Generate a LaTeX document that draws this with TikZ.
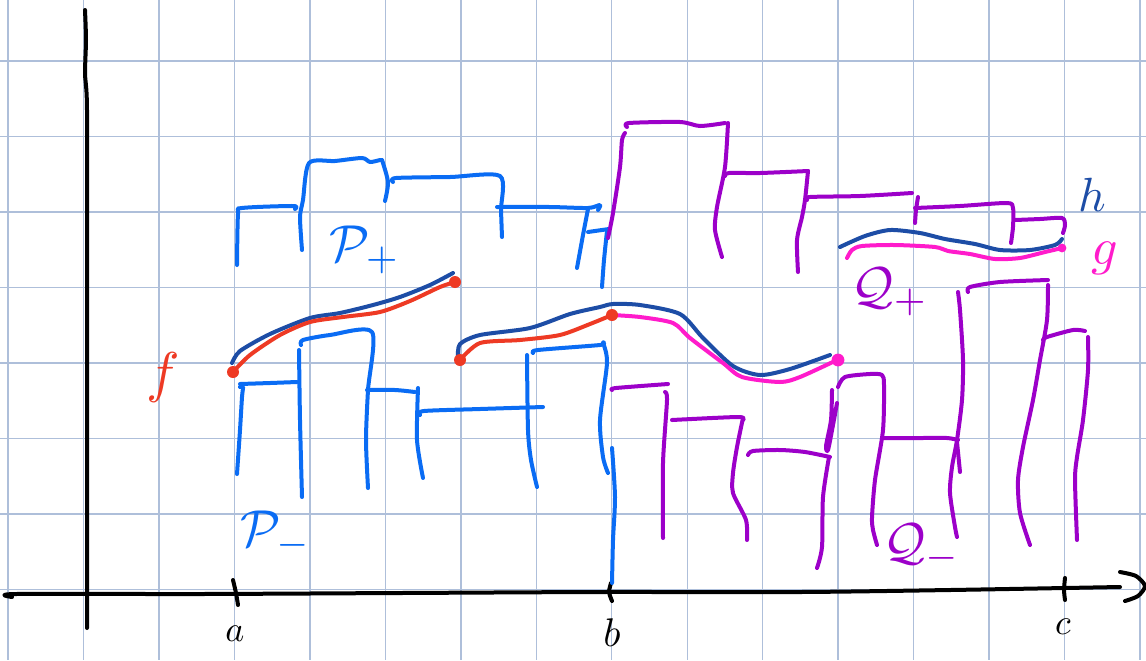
\documentclass[tikz,border=0pt]{standalone}
\definecolor{gridc}{HTML}{AEBFDA}
\definecolor{pblue}{HTML}{0A6CF4}
\definecolor{dblue}{HTML}{1D4DA6}
\definecolor{fred}{HTML}{EE3A24}
\definecolor{gmag}{HTML}{FF1BCB}
\definecolor{qpur}{HTML}{9C00C9}
\tikzset{
  gridline/.style={draw=gridc, line width=0.7pt},
  pen/.style={line width=2pt, line cap=round, line join=round},
  axispen/.style={pen, draw=black},
  pbar/.style={pen, draw=pblue},
  qbar/.style={pen, draw=qpur},
  hcurve/.style={pen, draw=dblue},
  fcurve/.style={pen, draw=fred},
  gcurve/.style={pen, draw=gmag},
  lbl/.style={inner sep=0pt, anchor=center},
  sm/.style={smooth, tension=0.45}
}
\begin{document}
\begin{tikzpicture}[x=0.5pt, y=-0.5pt]
\fill[white] (0,0) rectangle (1146,660);
\useasboundingbox (0,0) rectangle (1146,660);
% grid
\foreach \i in {0,...,15} \draw[gridline] ({8+75.47*\i},0) -- ({8+75.47*\i},660);
\foreach \j in {0,...,7} \draw[gridline] (0,{61+75.5*\j}) -- (1146,{61+75.5*\j});

% axes
\draw[axispen] plot[sm] coordinates {(85,10) (86,40) (85,75) (87,110) (87,300) (87,450) (87,628)};
\draw[axispen] plot[sm] coordinates {(12,597) (16,594) (200,594) (400,593) (600,592) (800,592) (950,590) (1120,587)};
\draw[axispen] plot[sm] coordinates {(1120,572) (1136,576) (1145,586) (1138,596) (1125,601)};
\draw[axispen] plot[sm] coordinates {(233,580) (236,593) (238,605)};
\draw[axispen] plot[sm] coordinates {(611,583) (609,592) (612,601)};
\draw[axispen] plot[sm] coordinates {(1065,578) (1064,590) (1065,600)};
\node[lbl, scale=1.8] (la) at (235,634) {$a$};
\node[lbl, scale=2.0] (lb) at (612,633) {$b$};
\node[lbl, scale=1.8] (lc) at (1063,627) {$c$};

% P+ upper bars (blue)
\draw[pbar] plot[sm] coordinates {(237,265) (238,214) (242,208) (293,206) (295,209)};
\draw[pbar] plot[sm] coordinates {(302,250) (300,217) (303,200) (309,163) (335,161) (362,158) (370,162) (380,160)};
\draw[pbar] plot[sm] coordinates {(382,160) (388,182) (385,201)};
\draw[pbar] plot[sm] coordinates {(393,182) (396,178) (450,177) (500,176) (501,210) (502,237)};
\draw[pbar] plot[sm] coordinates {(497,207) (550,207) (588,208) (600,205) (598,210)};
\draw[pbar] plot[sm] coordinates {(588,209) (583,235) (577,268)};
\draw[pbar] (588,232) -- (609,229);
\draw[pbar] plot[sm] coordinates {(607,231) (604,260) (602,287)};

% Q+ upper bars (purple)
\draw[qbar] plot[sm] coordinates {(608,238) (613,213) (620,167) (622,140) (625,133)};
\draw[qbar] plot[sm] coordinates {(627,127) (629,123) (680,122) (700,126) (725,123)};
\draw[qbar] plot[sm] coordinates {(728,123) (725,167) (717,207) (715,230) (722,257)};
\draw[qbar] plot[sm] coordinates {(725,176) (729,173) (760,173) (808,171)};
\draw[qbar] plot[sm] coordinates {(808,171) (805,200) (802,217) (797,240) (798,272)};
\draw[qbar] plot[sm] coordinates {(807,200) (810,197) (860,196) (912,193)};
\draw[qbar] plot[sm] coordinates {(918,197) (916,210) (915,223)};
\draw[qbar] plot[sm] coordinates {(915,208) (960,206) (1007,203) (1013,208) (1013,227) (1011,243)};
\draw[qbar] plot[sm] coordinates {(1015,220) (1040,219) (1062,218) (1065,225) (1063,233)};

% h and g curves (upper right)
\draw[hcurve] plot[sm] coordinates {(840,247) (865,236) (890,230) (920,233) (945,239) (975,244) (1000,250) (1030,250) (1055,245) (1062,239)};
\draw[gcurve] plot[sm] coordinates {(847,258) (852,250) (862,246) (895,245) (935,247) (948,251) (970,254) (995,259) (1020,258) (1045,252) (1062,248)};
\fill[gmag] (1062,248) circle (2.2pt);

% f and h curves (middle)
\draw[hcurve] plot[sm] coordinates {(232,363) (240,351) (270,334) (310,318) (340,313) (373,305) (400,297) (430,285) (453,273)};
\draw[fcurve] plot[sm] coordinates {(233,372) (250,355) (280,335) (310,322) (343,317) (380,312) (410,301) (440,287) (455,282)};
\draw[hcurve] plot[sm] coordinates {(458,357) (460,344) (480,335) (530,328) (570,314) (600,307) (613,304) (640,305) (680,314) (703,338) (733,366) (760,375) (790,369) (830,355)};
\draw[fcurve] plot[sm] coordinates {(460,360) (480,343) (520,340) (560,335) (590,324) (612,315)};
\draw[gcurve] plot[sm] coordinates {(612,315) (640,317) (673,323) (690,338) (723,363) (742,377) (780,382) (800,377) (837,360)};
\fill[fred] (233,372) circle (3pt);
\fill[fred] (455,282) circle (3pt);
\fill[fred] (460,360) circle (3pt);
\fill[fred] (612,315) circle (3pt);
\fill[gmag] (838,360) circle (3.2pt);

% P- lower bars (blue)
\draw[pbar] plot[sm] coordinates {(237,474) (240,430) (242,397) (243,387) (240,387)};
\draw[pbar] plot[sm] coordinates {(240,384) (270,383) (297,382)};
\draw[pbar] plot[sm] coordinates {(299,350) (300,420) (302,497)};
\draw[pbar] plot[sm] coordinates {(301,345) (303,340) (330,335) (372,332) (368,390) (366,440) (368,488)};
\draw[pbar] plot[sm] coordinates {(367,390) (395,390) (415,392)};
\draw[pbar] plot[sm] coordinates {(418,388) (417,440) (423,478)};
\draw[pbar] plot[sm] coordinates {(420,415) (424,411) (480,409) (543,407)};
\draw[pbar] plot[sm] coordinates {(527,355) (528,430) (531,460) (537,487)};
\draw[pbar] plot[sm] coordinates {(533,353) (538,350) (600,345) (603,343) (607,363) (600,420) (603,457) (608,473)};
\draw[pbar] plot[sm] coordinates {(612,448) (615,497) (613,540) (612,583)};

% Q- lower bars (purple)
\draw[qbar] plot[sm] coordinates {(612,390) (616,388) (668,384)};
\draw[qbar] plot[sm] coordinates {(665,392) (667,400) (663,463) (663,538)};
\draw[qbar] plot[sm] coordinates {(672,420) (738,417) (743,420)};
\draw[qbar] plot[sm] coordinates {(743,418) (737,447) (733,473) (733,493) (746,520) (747,540)};
\draw[qbar] plot[sm] coordinates {(748,455) (753,451) (780,450) (805,452) (830,457)};
\draw[qbar] plot[sm] coordinates {(832,390) (831,420) (826,446) (828,450) (833,425) (837,403)};
\draw[qbar] plot[sm] coordinates {(829,457) (823,497) (822,547) (817,568)};
\draw[qbar] plot[sm] coordinates {(838,387) (845,377) (870,374) (882,375) (884,385) (883,430) (875,480) (872,517) (873,530) (877,545)};
\draw[qbar] plot[sm] coordinates {(882,438) (920,438) (947,438) (958,440)};
\draw[qbar] plot[sm] coordinates {(958,292) (960,310) (963,360) (962,400) (957,440) (952,467) (950,493) (955,527) (957,537)};
\draw[qbar] (957,442) -- (960,472);
\draw[qbar] plot[sm] coordinates {(968,292) (970,287) (1000,282) (1048,280)};
\draw[qbar] plot[sm] coordinates {(1048,285) (1047,320) (1040,360) (1033,400) (1023,447) (1018,480) (1020,513) (1030,545)};
\draw[qbar] plot[sm] coordinates {(1043,340) (1047,337) (1073,330) (1085,331)};
\draw[qbar] plot[sm] coordinates {(1088,337) (1088,370) (1083,420) (1077,457) (1075,480) (1077,540)};

% labels
\node[lbl, text=pblue, scale=2.6] (Pplus) at (365,250) {$\mathcal{P}_+$};
\node[lbl, text=pblue, scale=2.6] (Pminus) at (276,535) {$\mathcal{P}_-$};
\node[lbl, text=qpur, scale=2.6] (Qplus) at (890,292) {$\mathcal{Q}_+$};
\node[lbl, text=qpur, scale=2.6] (Qminus) at (922,548) {$\mathcal{Q}_-$};
\node[lbl, text=fred, scale=2.8] (lf) at (163,377) {$f$};
\node[lbl, text=gmag, scale=2.6] (lg) at (1105,258) {$g$};
\node[lbl, text=dblue, scale=2.4] (lh) at (1092,195) {$h$};
\end{tikzpicture}
\end{document}
